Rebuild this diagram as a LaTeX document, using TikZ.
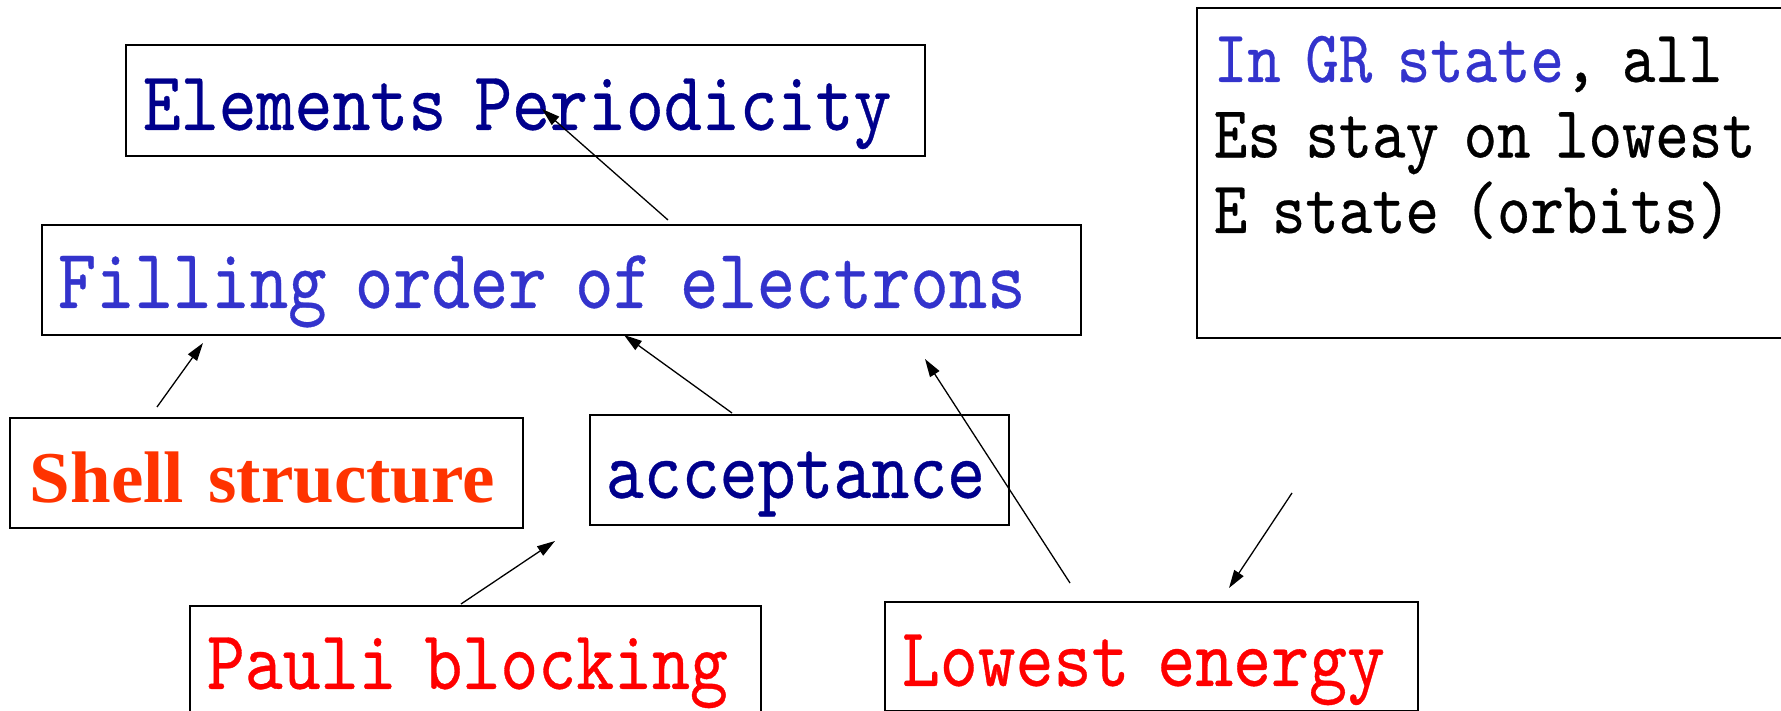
\documentclass[tikz,border=0pt]{standalone}
\usepackage{fontspec}
\usetikzlibrary{arrows.meta}

% Condensed serif monospace for most labels, bold Times-like face for one label
\newfontfamily\monoface{lmmono10-regular.otf}[FakeStretch=0.86,FakeBold=0.4]
\newfontfamily\serifface{Liberation Serif}

\definecolor{navy}{RGB}{0,0,140}
\definecolor{midblue}{RGB}{51,51,204}
\definecolor{orangered}{RGB}{255,51,0}
\definecolor{pure red}{RGB}{255,0,0}

\begin{document}
\begin{tikzpicture}[x=1pt,y=-1pt,
  box/.style={draw, line width=1.8pt, rectangle, inner sep=0pt,
              anchor=north west, align=left},
  mono/.style={font=\monoface\fontsize{#1}{#1}\selectfont},
  link/.style={line width=1.3pt, -{Triangle[length=18pt,width=11pt]}}]

\clip (0,0) rectangle (1781,711);

% Boxes
\node[box, mono=84, text=navy, minimum width=799pt, minimum height=111pt,
      text width=799pt, text height=85pt, text depth=26pt]
  (elem) at (125,44) {\hspace*{17pt}Elements Periodicity};

\node[box, mono=85, text=midblue, minimum width=1039pt, minimum height=110pt,
      text width=1039pt, text height=83pt, text depth=27pt]
  (fill) at (41,224) {\hspace*{16pt}Filling order of electrons};

\node[box, font=\serifface\bfseries\fontsize{73}{73}\selectfont, text=orangered,
      minimum width=513pt, minimum height=110pt,
      text width=513pt, text height=85pt, text depth=25pt]
  (shell) at (9,417) {\hspace*{20pt}Shell structure};

\node[box, mono=84, text=navy, minimum width=419pt, minimum height=110pt,
      text width=419pt, text height=83pt, text depth=27pt]
  (acc) at (589,414) {\hspace*{16pt}acceptance};

\node[box, mono=84, text=pure red, minimum width=571pt, minimum height=120pt,
      text width=571pt, text height=83pt, text depth=37pt]
  (pauli) at (189,605) {\hspace*{17pt}Pauli blocking};

\node[box, mono=84, text=pure red, minimum width=533pt, minimum height=109pt,
      text width=533pt, text height=84pt, text depth=25pt]
  (low) at (884,601) {\hspace*{17pt}Lowest energy};

\node[box, mono=74, minimum width=610pt, minimum height=330pt,
      text width=610pt, text height=74pt, text depth=256pt]
  (gr) at (1196,7) {\hspace*{17pt}\vtop{\baselineskip=75.5pt
      \hbox{\textcolor{midblue}{In GR state}, all}
      \hbox{Es stay on lowest}
      \hbox{E state (orbits)}}};

% Arrow end points
\coordinate (fillTop)   at (668,220);
\coordinate (elemTip)   at (542,109);
\coordinate (shellTop)  at (157,407);
\coordinate (shellTip)  at (203,343);
\coordinate (accTop)    at (732,413);
\coordinate (accTip)    at (624,335);
\coordinate (pauliTop)  at (461,604);
\coordinate (pauliTip)  at (555,541);
\coordinate (lowTop)    at (1070,583);
\coordinate (lowTip)    at (925,359);
\coordinate (grStart)   at (1292,493);
\coordinate (grTip)     at (1229,588);

% Arrows
\draw[link] (fillTop)  -- (elemTip);
\draw[link] (shellTop) -- (shellTip);
\draw[link] (accTop)   -- (accTip);
\draw[link] (pauliTop) -- (pauliTip);
\draw[link] (lowTop)   -- (lowTip);
\draw[link] (grStart)  -- (grTip);
\end{tikzpicture}
\end{document}
